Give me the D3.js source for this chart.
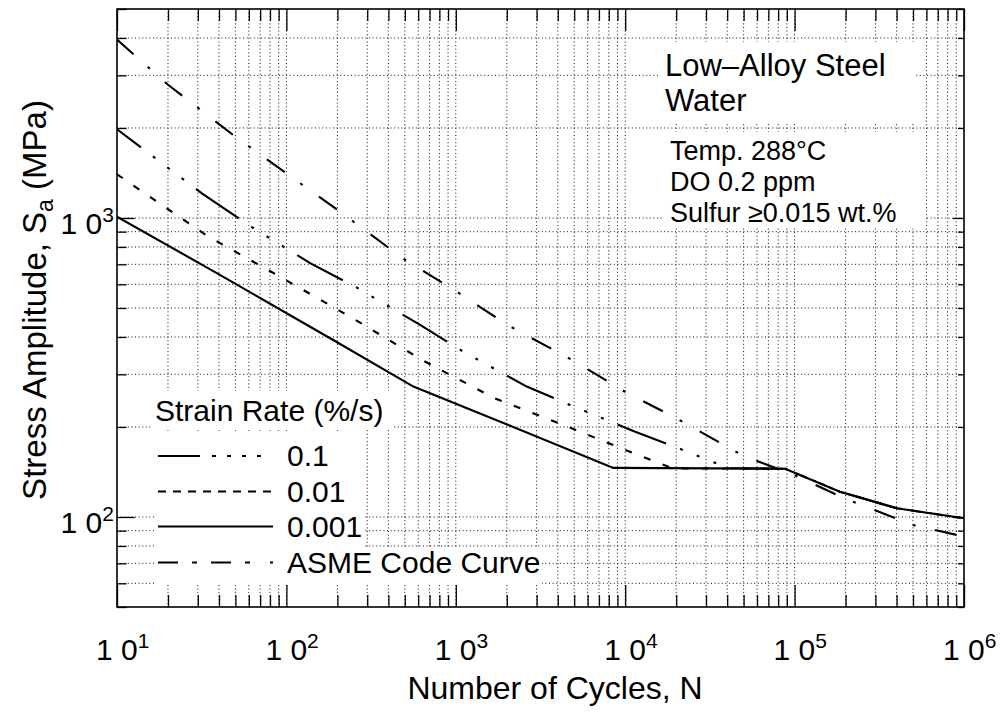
<!DOCTYPE html>
<html>
<head>
<meta charset="utf-8">
<script src="https://cdn.jsdelivr.net/npm/d3@7"></script>
<style>
  body { margin: 0; background: #fff; }
  text { font-family: "Liberation Sans", Arial, Helvetica, sans-serif; fill: #000; }
</style>
</head>
<body>
<div id="chart"></div>
<script>
// values: N = cycles, S = stress amplitude (MPa)
const rate01N = [10, 31.7, 59.8, 138, 255, 616, 1109, 2624, 4723, 11160, 20570, 31730, 41000, 88000, 185000, 400000, 1e6];
const rate01S = [1980, 1209, 947, 706, 589, 439, 357, 273, 237, 194, 170, 154, 145.5, 145, 121.5, 107, 99];

const rate001N = [10, 34, 91.8, 251, 644, 1706, 4617, 11950, 19100, 88000, 185000, 400000, 1e6];
const rate001S = [1400, 872, 636, 459, 333, 249, 200, 161, 145.5, 145, 121.5, 107, 99];

const rate0001N = [10, 40, 190, 562, 2042, 8510, 88000, 185000, 400000, 1e6];
const rate0001S = [1010, 648, 390, 273, 203, 146, 145, 121.5, 107, 99];

const asmeN = [10, 20, 50, 100, 200, 500, 1000, 2000, 5000, 1e4, 2e4, 5e4, 1e5, 2e5, 5e5, 1e6];
const asmeS = [3950, 2790, 1870, 1410, 1065, 725, 570, 440, 332, 262, 214, 160, 138, 115, 94, 86];

const xDecades = [10, 100, 1e3, 1e4, 1e5, 1e6];
const yDecades = [100, 1000];

const legendLabels = ["0.1", "0.01", "0.001", "ASME Code Curve"];
const infoHead = ["Low\u2013Alloy Steel", "Water"];
const infoLines = ["Temp. 288\u00B0C", "DO 0.2 ppm", "Sulfur \u22650.015 wt.%"];

const zip = (ns, ss) => ns.map((n, i) => ({n: n, s: ss[i]}));
const series = [
  {key: "0.1", pts: zip(rate01N, rate01S), dash: "52,15,3,15,3,15,3,15", off: 22, legDash: "42,12,4,11,4,11,4,11,4"},
  {key: "0.01", pts: zip(rate001N, rate001S), dash: "7,13", off: 0, legDash: "8,7"},
  {key: "0.001", pts: zip(rate0001N, rate0001S), dash: null, off: 0, legDash: null},
  {key: "asme", pts: zip(asmeN, asmeS), dash: "22,19,3,20", off: 0, legDash: "20,14,5,14,20,14,5"}
];

var margin = {top: 9, right: 41, bottom: 111, left: 117},
    width = 1005 - margin.left - margin.right,
    height = 718 - margin.top - margin.bottom;

const svg = d3.select("#chart").append("svg")
    .attr("width", 1005).attr("height", 718);

const g = svg.append("g")
    .attr("transform", "translate(" + margin.left + "," + margin.top + ")");

const x = d3.scaleLog().domain([10, 1e6]).range([0, width]);
const y = d3.scaleLog().domain([50, 5000]).range([height, 0]);

const isMajor = d => Math.abs(Math.log10(d) - Math.round(Math.log10(d))) < 1e-9;

const xTicks = x.ticks();
const yTicks = y.ticks();

// dotted grid
g.append("g").selectAll("line")
  .data(xTicks.filter(d => d > 10 && d < 1e6))
  .enter().append("line")
    .attr("x1", d => x(d)).attr("x2", d => x(d))
    .attr("y1", 0).attr("y2", height)
    .attr("stroke", "#111").attr("stroke-width", 1)
    .attr("stroke-dasharray", "1,2.6");

g.append("g").selectAll("line")
  .data(yTicks.filter(d => d > 50 && d < 5000))
  .enter().append("line")
    .attr("x1", 0).attr("x2", width)
    .attr("y1", d => y(d)).attr("y2", d => y(d))
    .attr("stroke", "#111").attr("stroke-width", 1)
    .attr("stroke-dasharray", "1,2.6");

// inward ticks on all four sides
function styleTicks(sel, attr, sign) {
  sel.select(".domain").remove();
  sel.selectAll(".tick line")
    .attr(attr, d => sign * (isMajor(d) ? 22 : 12))
    .attr("stroke", "#000").attr("stroke-width", 1.3);
  sel.selectAll(".tick text").remove();
}
g.append("g").attr("transform", "translate(0," + height + ")")
  .call(d3.axisBottom(x).tickValues(xTicks).tickSize(-12))
  .call(s => styleTicks(s, "y2", -1));
g.append("g")
  .call(d3.axisTop(x).tickValues(xTicks).tickSize(-12))
  .call(s => styleTicks(s, "y2", 1));
g.append("g")
  .call(d3.axisLeft(y).tickValues(yTicks).tickSize(-10))
  .call(s => styleTicks(s, "x2", 0.8));
g.append("g").attr("transform", "translate(" + width + ",0)")
  .call(d3.axisRight(y).tickValues(yTicks).tickSize(-10))
  .call(s => styleTicks(s, "x2", -0.5));

// white boxes behind the text blocks
const boxes = [
  [660, 42, 255, 80], [664, 132, 262, 96],
  [152, 391, 240, 39], [156, 431, 209, 117], [156, 548, 386, 36]
];
svg.append("g").selectAll("rect").data(boxes).enter().append("rect")
  .attr("x", d => d[0]).attr("y", d => d[1])
  .attr("width", d => d[2]).attr("height", d => d[3])
  .attr("fill", "#fff");

// curves
svg.append("defs").append("clipPath").attr("id", "clip")
  .append("rect").attr("width", width).attr("height", height);

const line = d3.line().x(d => x(d.n)).y(d => y(d.s));

g.append("g").attr("clip-path", "url(#clip)")
  .selectAll("path").data(series).enter().append("path")
    .attr("d", d => line(d.pts))
    .attr("fill", "none").attr("stroke", "#000").attr("stroke-width", 2.1)
    .attr("stroke-dasharray", d => d.dash)
    .attr("stroke-dashoffset", d => d.off);

// frame
g.append("rect").attr("width", width).attr("height", height)
  .attr("fill", "none").attr("stroke", "#000").attr("stroke-width", 1.6);

// tick labels
const xl = svg.append("g").selectAll("text").data(xDecades).enter().append("text")
  .attr("x", d => margin.left + x(d) - 21).attr("y", 660)
  .style("font-size", "30px");
xl.append("tspan").text("1 0");
xl.append("tspan").attr("dy", -12).style("font-size", "21px").text(d => Math.round(Math.log10(d)));

const yl = svg.append("g").selectAll("text").data(yDecades).enter().append("text")
  .attr("x", 114).attr("y", d => margin.top + y(d) + 16)
  .attr("text-anchor", "end")
  .style("font-size", "30px");
yl.append("tspan").text("1 0");
yl.append("tspan").attr("dy", -12).style("font-size", "21px").text(d => Math.round(Math.log10(d)));

// axis titles
svg.append("text")
  .attr("x", 555).attr("y", 699)
  .attr("text-anchor", "middle")
  .style("font-size", "32px")
  .text("Number of Cycles, N");

const yt = svg.append("text")
  .attr("transform", "translate(46,300) rotate(-90)")
  .attr("text-anchor", "middle")
  .style("font-size", "33px");
yt.append("tspan").text("Stress Amplitude, S");
yt.append("tspan").attr("dy", 7).style("font-size", "23px").text("a");
yt.append("tspan").attr("dy", -7).text(" (MPa)");

// info text
svg.append("g").selectAll("text").data(infoHead).enter().append("text")
  .attr("x", 665).attr("y", (d, i) => 76 + i * 35)
  .style("font-size", "31px").text(d => d);
svg.append("g").selectAll("text").data(infoLines).enter().append("text")
  .attr("x", 670).attr("y", (d, i) => 160 + i * 31)
  .style("font-size", "27px").text(d => d);

// legend
svg.append("text").attr("x", 155).attr("y", 421)
  .style("font-size", "30px").text("Strain Rate (%/s)");

const legRows = [456, 491.5, 526.5, 562.5];
const leg = svg.append("g").selectAll("g").data(series).enter().append("g")
  .attr("transform", (d, i) => "translate(0," + legRows[i] + ")");
leg.append("line")
  .attr("x1", 158).attr("x2", 273).attr("y1", 0).attr("y2", 0)
  .attr("stroke", "#000").attr("stroke-width", 2)
  .attr("stroke-dasharray", d => d.legDash);
leg.append("text")
  .attr("x", 287).attr("y", 10)
  .style("font-size", "30px")
  .text((d, i) => legendLabels[i]);
</script>
</body>
</html>
